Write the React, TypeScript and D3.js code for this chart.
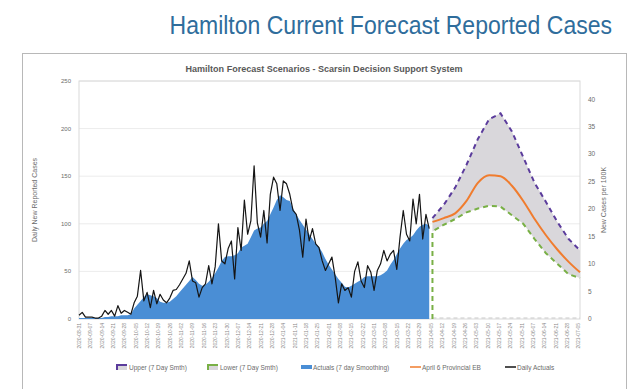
import React from 'react';
import * as d3 from 'd3';

// actuals, one reading every 2 days from the start date
const actualStart = '2020-08-31';
const actualStepDays = 2;
const dailyActuals = [
  4, 7, 2, 2, 2, 1, 1, 3, 9, 5,
  9, 3, 14, 6, 9, 7, 5, 17, 24, 51,
  19, 28, 12, 30, 16, 26, 20, 17, 22, 30,
  31, 36, 42, 48, 61, 40, 38, 23, 33, 37,
  56, 37, 55, 100, 61, 58, 74, 82, 42, 96,
  72, 125, 89, 103, 161, 101, 86, 114, 80, 131,
  149, 142, 114, 145, 142, 131, 114, 110, 93, 65,
  105, 82, 95, 79, 75, 61, 51, 58, 65, 44,
  17, 37, 30, 33, 23, 50, 60, 40, 33, 56,
  49, 30, 51, 58, 72, 61, 68, 72, 52, 86,
  114, 89, 82, 126, 100, 131, 84, 110, 95
];
const smoothedActuals = [
  1, 1, 1, 1, 1, 1, 1, 1, 2, 2,
  3, 3, 3, 4, 4, 4, 5, 11, 15, 19,
  23, 26, 25, 24, 22, 18, 17, 17, 18, 21,
  24, 28, 32, 36, 40, 44, 41, 37, 35, 36,
  39, 43, 48, 54, 61, 65, 66, 66, 67, 69,
  75, 77, 79, 86, 93, 95, 96, 100, 103, 110,
  117, 125, 130, 128, 125, 124, 116, 110, 104, 99,
  94, 89, 84, 79, 76, 70, 63, 57, 52, 47,
  42, 38, 34, 33, 35, 37, 39, 41, 44, 45,
  45, 45, 45, 46, 48, 51, 57, 62, 68, 74,
  79, 83, 85, 88, 93, 97, 99, 100, 98
];

// forecast scenarios, weekly from April 6
const forecastStart = '2021-04-06';
const forecastStepDays = 7;
const upperForecast = [106, 120, 138, 162, 189, 210, 216, 197, 170, 143, 123, 102, 84, 72];
const provincialForecast = [102, 106, 111, 124, 143, 151, 150, 140, 124, 105, 88, 73, 60, 49];
const lowerForecast = [92, 99, 105, 112, 116, 119, 118, 109, 100, 84, 69, 58, 47, 43];

const axisStart = '2020-08-31';
const axisEnd = '2021-07-06';
const leftTicks = [0, 50, 100, 150, 200, 250];
const rightTicks = [0, 5, 10, 15, 20, 25, 30, 35, 40];
const casesPerHundredK = 5.76; // daily cases -> cases per 100K

const legendItems = [
  { key: 'upper', label: 'Upper (7 Day Smth)' },
  { key: 'lower', label: 'Lower (7 Day Smth)' },
  { key: 'actual', label: 'Actuals (7 day Smoothing)' },
  { key: 'prov', label: 'April 6 Provincial EB' },
  { key: 'daily', label: 'Daily Actuals' }
];

const parse = d3.timeParse('%Y-%m-%d');
const fmt = d3.timeFormat('%Y-%m-%d');
const font = 'Liberation Sans, Arial, sans-serif';
const grey = '#6b6b6b';

export default function App() {
  const width = 640, height = 389;
  const left = 79, right = 580, top = 81, bottom = 319;

  const x = d3.scaleTime()
    .domain([parse(axisStart), parse(axisEnd)])
    .range([left, right]);
  const y = d3.scaleLinear().domain([0, 250]).range([bottom, top]);
  const yRight = d3.scaleLinear().domain([0, 250 / casesPerHundredK]).range([bottom, top]);

  const a0 = parse(actualStart);
  const actual = dailyActuals.map((v, i) => ({ date: d3.timeDay.offset(a0, i * actualStepDays), v, s: smoothedActuals[i] }));
  const f0 = parse(forecastStart);
  const forecast = upperForecast.map((u, i) => ({
    date: d3.timeDay.offset(f0, i * forecastStepDays), u, p: provincialForecast[i], l: lowerForecast[i]
  }));

  const area = d3.area<any>().x(d => x(d.date)).y0(y(0)).y1(d => y(d.s));
  const daily = d3.line<any>().x(d => x(d.date)).y(d => y(d.v));
  const band = d3.area<any>().x(d => x(d.date)).y0(d => y(d.l)).y1(d => y(d.u));
  const upper = d3.line<any>().x(d => x(d.date)).y(d => y(d.u));
  const lowerPath = 'M' + x(f0) + ',' + y(0) + 'L' + d3.line<any>().x(d => x(d.date)).y(d => y(d.l))(forecast)!.slice(1);
  const prov = d3.line<any>().curve(d3.curveMonotoneX).x(d => x(d.date)).y(d => y(d.p));

  const weeks = d3.timeMonday.range(parse(axisStart), d3.timeDay.offset(parse(axisEnd), 1));

  // legend layout
  const legendX = [117, 208, 301, 410, 505];
  const ly = 367;

  return (
    <svg width={width} height={height} style={{ position: 'absolute', left: 0, top: 0 }} fontFamily={font}>
      <rect x={0} y={0} width={width} height={height} fill="#fff" />
      <text transform="translate(612,34) scale(0.885,1)" textAnchor="end" fontSize={26} fill="#2f6d9c">
        Hamilton Current Forecast Reported Cases
      </text>
      <rect x={22.5} y={53.5} width={604} height={340} fill="#fff" stroke="#b8b8b8" />
      <text x={324} y={72} textAnchor="middle" fontSize={8.5} fontWeight="bold" fill="#595959" textLength={277} lengthAdjust="spacingAndGlyphs">
        Hamilton Forecast Scenarios - Scarsin Decision Support System
      </text>

      {leftTicks.map(t => (
        <g key={t}>
          {t > 0 && <line x1={left} x2={right} y1={y(t)} y2={y(t)} stroke="#ececec" />}
          <text x={71} y={y(t) + 2} textAnchor="end" fontSize={6} fill={grey}>{t}</text>
        </g>
      ))}
      {rightTicks.map(t => (
        <text key={t} x={588} y={yRight(t) + 2} fontSize={6.5} fill={grey}>{t}</text>
      ))}
      <rect x={left} y={top} width={right - left} height={bottom - top} fill="none" stroke="#d9d9d9" />

      <text transform={`translate(37,${(top + bottom) / 2}) rotate(-90)`} textAnchor="middle" fontSize={7} fill={grey}>
        Daily New Reported Cases
      </text>
      <text transform={`translate(606,${(top + bottom) / 2}) rotate(-90)`} textAnchor="middle" fontSize={7} fill={grey}>
        New Cases per 100K
      </text>

      {weeks.map(w => (
        <text key={+w} transform={`translate(${x(w) + 2},${bottom + 4}) rotate(-90)`} textAnchor="end" fontSize={5} fill="#8a8a8a">
          {fmt(w)}
        </text>
      ))}

      <path d={area(actual)!} fill="#4a8ed5" />
      <path d={band(forecast)!} fill="#d9d7db" />
      <line x1={x(f0)} x2={right} y1={y(0) - 1} y2={y(0) - 1} stroke="#c8c8c8" strokeDasharray="4,3" />
      <path d={upper(forecast)!} fill="none" stroke="#5b3c9c" strokeWidth={2} strokeDasharray="5,4" />
      <path d={lowerPath} fill="none" stroke="#79b046" strokeWidth={2} strokeDasharray="5,4" />
      <path d={prov(forecast)!} fill="none" stroke="#f07c2e" strokeWidth={2} />
      <path d={daily(actual)!} fill="none" stroke="#151515" strokeWidth={1.2} strokeLinejoin="round" />

      {legendItems.map((item, i) => {
        const lx = legendX[i];
        let icon;
        if (item.key === 'upper' || item.key === 'lower') {
          icon = <path d={`M${lx},${ly + 3}V${ly - 2}H${lx + 10}`} fill="none"
            stroke={item.key === 'upper' ? '#5b3c9c' : '#79b046'} strokeWidth={2} />;
        } else if (item.key === 'actual') {
          icon = <rect x={lx} y={ly - 2} width={11} height={4} fill="#4a8ed5" />;
        } else {
          icon = <line x1={lx} x2={lx + 11} y1={ly} y2={ly} stroke={item.key === 'prov' ? '#f07c2e' : '#151515'} strokeWidth={1.5} />;
        }
        return (
          <g key={item.key}>
            {item.key === 'upper' || item.key === 'lower'
              ? <rect x={lx} y={ly - 2} width={10} height={5} fill="#d9d7db" /> : null}
            {icon}
            <text x={lx + 12} y={ly + 2.5} fontSize={6.5} fill={grey}>{item.label}</text>
          </g>
        );
      })}
    </svg>
  );
}
